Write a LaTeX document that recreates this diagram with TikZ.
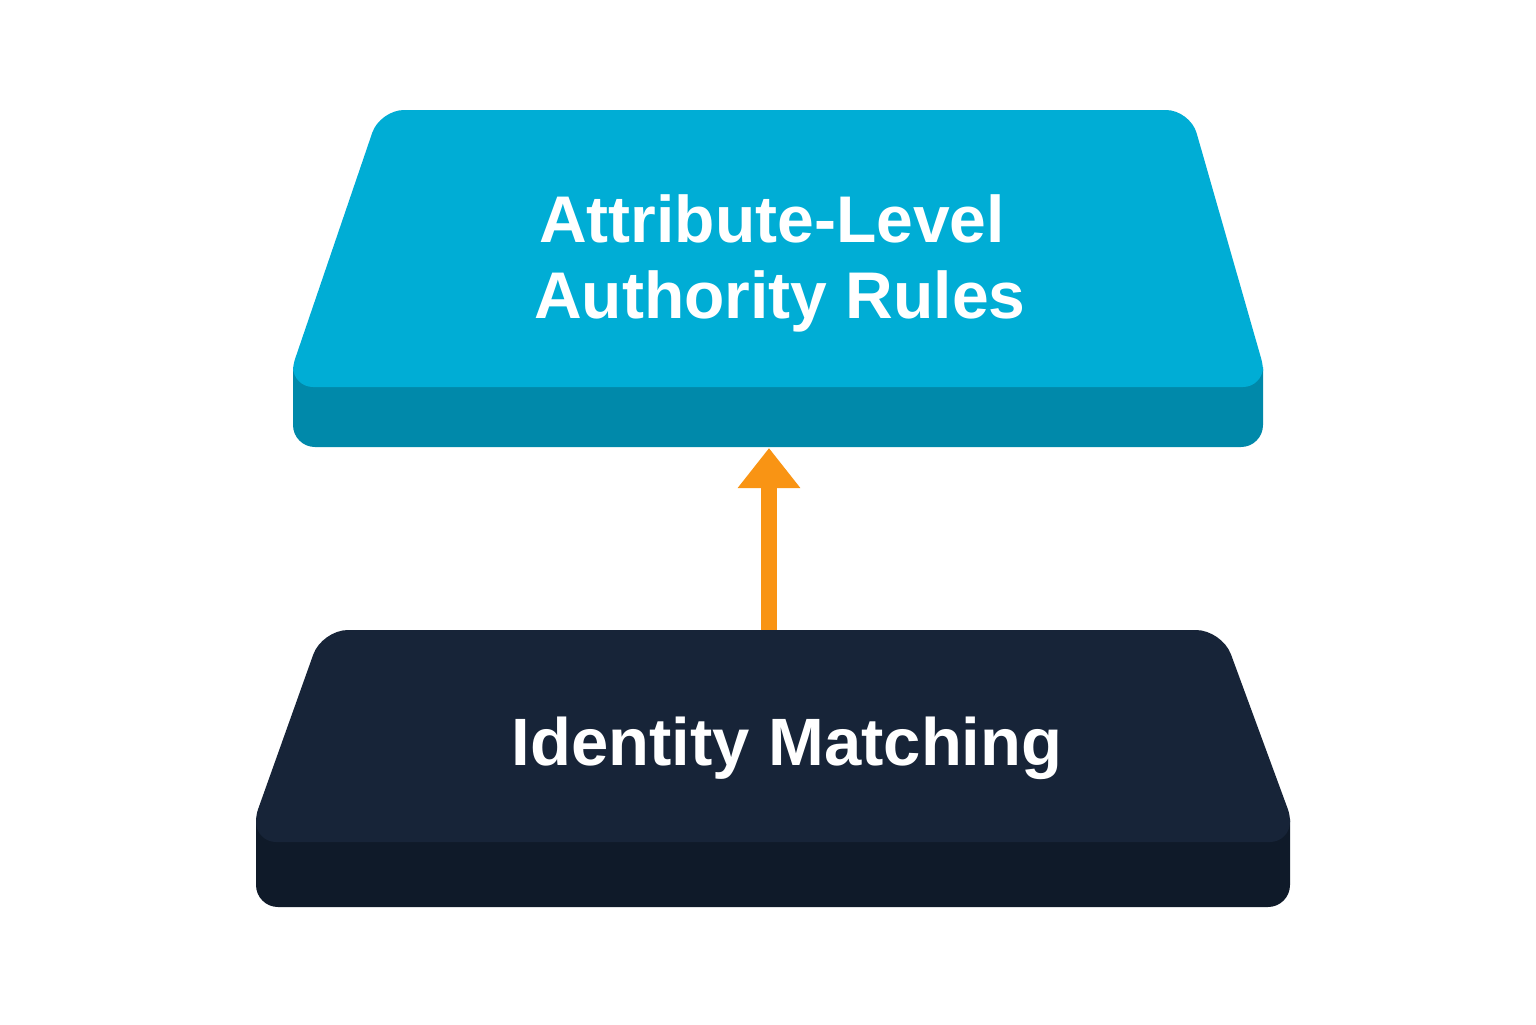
\documentclass[tikz,border=0pt]{standalone}
\usepackage{fontspec}
\setmainfont{Liberation Sans}
\usetikzlibrary{arrows.meta}
\definecolor{topface}{HTML}{00ADD5}
\definecolor{topside}{HTML}{0089AA}
\definecolor{botface}{HTML}{172438}
\definecolor{botside}{HTML}{0F1A29}
\definecolor{arrowc}{HTML}{F99414}
\tikzset{
  slabtext/.style={text=white, font=\bfseries\fontsize{33pt}{38pt}\selectfont, inner sep=0pt, anchor=base},
  uparrow/.style={draw=arrowc, line width=8pt, -{Triangle[width=30pt,length=20pt]}},
}
\begin{document}
\begin{tikzpicture}[x=0.5pt,y=-0.5pt]
\useasboundingbox[fill=white] (0,0) rectangle (1536,1024);
% top slab
\begin{scope}
\clip (0,369) rectangle (1536,1024);
\fill[topside, rounded corners=11pt] (293,330) rectangle (1263,447);
\end{scope}
\fill[topface, rounded corners=12pt] (380,110) -- (1190,110) [rounded corners=3pt] -- (1263,365) [rounded corners=10pt] -- (1263,387) -- (293,387) [rounded corners=3pt] -- (293,365) [rounded corners=12pt] -- cycle;
% bottom slab
\begin{scope}
\clip (0,819) rectangle (1536,1024);
\fill[botside, rounded corners=11pt] (256,780) rectangle (1290,907);
\end{scope}
\fill[botface, rounded corners=13pt] (322,630) -- (1222,630) [rounded corners=3pt] -- (1290,815) [rounded corners=10pt] -- (1290,842) -- (256,842) [rounded corners=3pt] -- (256,815) [rounded corners=13pt] -- cycle;
% texts
\node[slabtext] (t1) at (772,242) {Attribute-Level};
\node[slabtext] (t2) at (780,318) {Authority Rules};
\node[slabtext, font=\bfseries\fontsize{33.5pt}{38pt}\selectfont] (b1) at (787,765) {Identity Matching};
% arrow
\coordinate (arrS) at (769,630);
\coordinate (arrE) at (769,448);
\draw[uparrow] (arrS) -- (arrE);
\end{tikzpicture}
\end{document}
